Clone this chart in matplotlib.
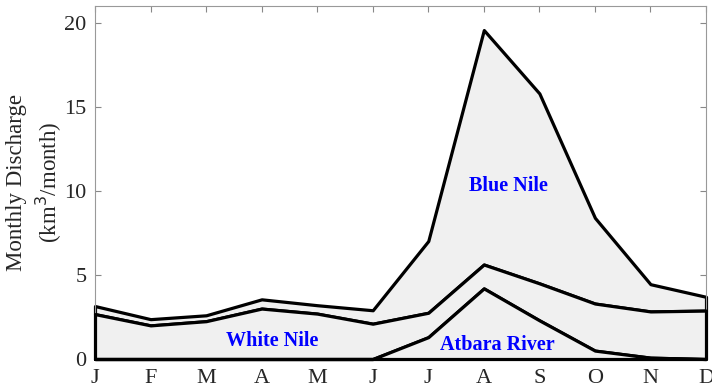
import matplotlib
matplotlib.use("Agg")
import matplotlib.pyplot as plt
import numpy as np

months = ["J", "F", "M", "A", "M", "J", "J", "A", "S", "O", "N", "D"]
atbara = [0.0, 0.0, 0.0, 0.0, 0.0, 0.0, 1.3, 4.2, 2.3, 0.5, 0.08, 0.0]
white_nile = [2.67, 2.0, 2.25, 3.0, 2.7, 2.1, 1.45, 1.42, 2.2, 2.8, 2.75, 2.88]
blue_nile = [0.48, 0.37, 0.35, 0.55, 0.5, 0.8, 4.27, 13.95, 11.3, 5.1, 1.62, 0.82]

plt.rcParams['font.family'] = ['Liberation Serif', 'DejaVu Serif']

x = np.arange(1, 13)
a = np.array(atbara)
w = a + np.array(white_nile)
t = w + np.array(blue_nile)

fig = plt.figure(figsize=(7.12, 3.89), dpi=100)
ax = fig.add_axes([95/712, 30/389, 611/712, 353/389])

lw = 2.3
fc = '#f0f0f0'
ax.fill_between(x, w, t, facecolor=fc, edgecolor='black', linewidth=lw, zorder=2, clip_on=False)
ax.fill_between(x, a, w, facecolor=fc, edgecolor='black', linewidth=lw, zorder=3, clip_on=False)
ax.fill_between(x, 0, a, facecolor=fc, edgecolor='black', linewidth=lw, zorder=4, clip_on=False)

ax.set_xlim(1, 12)
ax.set_ylim(0, 21)
ax.set_xticks(x)
ax.set_xticklabels(months)
ax.set_yticks([0, 5, 10, 15, 20])
ax.tick_params(direction='in', top=True, right=True, labelsize=16, colors='#888888',
               labelcolor='#262626', length=4, width=0.8)
ax.tick_params(axis='x', pad=7)
ax.tick_params(axis='y', pad=6)
for s in ax.spines.values():
    s.set_color('#999999')
    s.set_linewidth(0.8)

ax.set_ylabel("Monthly Discharge\n(km$^3$/month)", fontsize=16.5, color='#262626',
              linespacing=1.3)
ax.yaxis.set_label_coords(-0.05, 0.5)

tk = dict(color='#0000ff', fontweight='bold', fontsize=14.5, ha='center', va='center', zorder=6)
ax.text(8.45, 10.3, "Blue Nile", **tk)
ax.text(4.19, 1.1, "White Nile", **tk)
ax.text(8.24, 0.85, "Atbara River", **tk)

fig.savefig("out.png", dpi=100)
